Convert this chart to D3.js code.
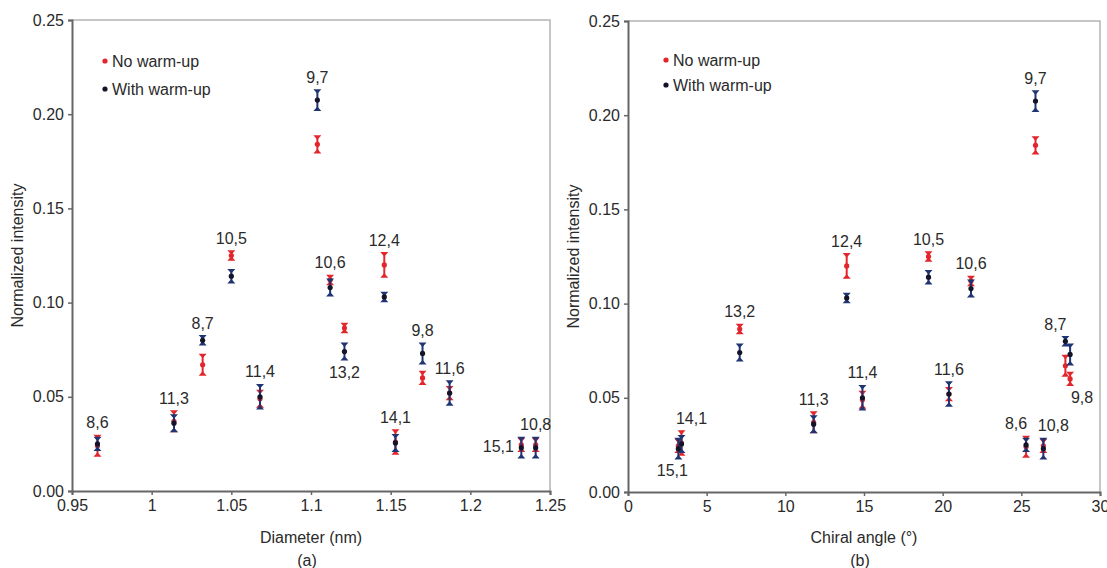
<!DOCTYPE html>
<html lang="en">
<head>
    <meta charset="utf-8">
    <script src="https://d3js.org/d3.v7.min.js"></script>
    <style type="text/css">
        body {
            margin: 0;
            background: #fff;
            overflow: hidden;
        }
        text {
            font-family: "Liberation Sans", Arial, sans-serif;
            fill: #2a2a2a;
        }
    </style>
</head>
<body>
<svg id="chart"></svg>
<script type="text/javascript">
    // tube chiralities (n,m) and values
    var tubes = ["8,6", "11,3", "8,7", "10,5", "11,4", "9,7", "10,6", "12,4", "13,2", "14,1", "9,8", "11,6", "15,1", "10,8"];
    var diameter = [0.966, 1.014, 1.032, 1.050, 1.068, 1.104, 1.112, 1.146, 1.121, 1.153, 1.170, 1.187, 1.232, 1.241];
    var chiralAngle = [25.3, 11.8, 27.8, 19.1, 14.9, 25.9, 21.8, 13.9, 7.1, 3.4, 28.1, 20.4, 3.2, 26.4];
    var noWarmup = [0.024, 0.037, 0.067, 0.125, 0.049, 0.184, 0.112, 0.120, 0.0865, 0.026, 0.060, 0.052, 0.0245, 0.0245];
    var noWarmupErr = [0.005, 0.005, 0.005, 0.002, 0.004, 0.004, 0.002, 0.006, 0.002, 0.006, 0.003, 0.003, 0.003, 0.003];
    var withWarmup = [0.025, 0.036, 0.080, 0.114, 0.050, 0.2075, 0.108, 0.103, 0.074, 0.0255, 0.073, 0.052, 0.023, 0.023];
    var withWarmupErr = [0.003, 0.004, 0.002, 0.003, 0.006, 0.005, 0.004, 0.002, 0.004, 0.004, 0.005, 0.006, 0.005, 0.005];

    var yTicks = [0, 0.05, 0.10, 0.15, 0.20, 0.25];
    var diameterTicks = [0.95, 1, 1.05, 1.1, 1.15, 1.2, 1.25];
    var angleTicks = [0, 5, 10, 15, 20, 25, 30];

    // where each tube label sits relative to its marker
    var labelSideA = {"13,2": "below", "15,1": "left"};
    var labelSideB = {"15,1": "belowLeft", "14,1": "aboveRight", "9,8": "belowRight",
        "8,7": "aboveLeft", "8,6": "aboveLeft", "10,8": "aboveRight"};

    var width = 1107, height = 568;
    var red = "#e3262c", navy = "#1f3573", dark = "#141428";
    var font = "Liberation Sans, Arial, sans-serif";

    var svg = d3.select("#chart")
        .attr("width", width)
        .attr("height", height);

    var rows = tubes.map(function(t, i) {
        return {
            tube: t, d: diameter[i], a: chiralAngle[i],
            red: noWarmup[i], redErr: noWarmupErr[i],
            blue: withWarmup[i], blueErr: withWarmupErr[i]
        };
    });

    function drawPanel(opt) {
        var x = d3.scaleLinear().domain(opt.xDomain).range([opt.left, opt.right]);
        var y = d3.scaleLinear().domain([0, 0.25]).range([opt.bottom, opt.top]);
        var g = svg.append("g");

        // light frame on top and right
        g.append("path")
            .attr("d", "M" + opt.left + "," + opt.top + "H" + opt.right + "V" + opt.bottom)
            .attr("fill", "none")
            .attr("stroke", "#b4b4b4")
            .attr("stroke-width", 1.5);

        var yAxis = g.append("g")
            .attr("transform", "translate(" + opt.left + ",0)")
            .call(d3.axisLeft(y).tickValues(yTicks).tickFormat(d3.format(".2f")).tickSize(4).tickPadding(4));
        var xAxis = g.append("g")
            .attr("transform", "translate(0," + opt.bottom + ")")
            .call(d3.axisBottom(x).tickValues(opt.ticks).tickFormat(function(d) { return String(+d.toFixed(2)); }).tickSize(4).tickPadding(5));

        [yAxis, xAxis].forEach(function(ax) {
            ax.select(".domain").attr("stroke", "#666").attr("stroke-width", 2);
            ax.selectAll(".tick line").attr("stroke", "#666").attr("stroke-width", 1.5);
            ax.selectAll(".tick text").style("font-size", "16px").style("font-family", font).attr("fill", "#2a2a2a");
        });

        g.append("text")
            .attr("x", (opt.left + opt.right) / 2)
            .attr("y", 543)
            .attr("text-anchor", "middle")
            .style("font-size", "16px")
            .text(opt.title);
        g.append("text")
            .attr("x", (opt.left + opt.right) / 2 - 4)
            .attr("y", 566)
            .attr("text-anchor", "middle")
            .style("font-size", "16px")
            .text(opt.tag);
        g.append("text")
            .attr("transform", "translate(" + (opt.left - 49) + "," + ((opt.top + opt.bottom) / 2) + ") rotate(-90)")
            .attr("text-anchor", "middle")
            .style("font-size", "16px")
            .text("Normalized intensity");

        // error bars
        function series(key, errKey, barColor, dotColor) {
            var s = g.append("g").selectAll("g")
                .data(rows)
                .join("g")
                .attr("transform", function(d) { return "translate(" + x(d[opt.xKey]) + ",0)"; });
            s.append("line")
                .attr("y1", function(d) { return y(d[key] + d[errKey]); })
                .attr("y2", function(d) { return y(d[key] - d[errKey]); })
                .attr("stroke", barColor)
                .attr("stroke-width", 2);
            s.append("path")
                .attr("d", function(d) {
                    var t = y(d[key] + d[errKey]), b = y(d[key] - d[errKey]);
                    return "M-4," + (t - 1.5) + "H4L0," + (t + 3) + "Z" +
                        "M-4," + (b + 1.5) + "H4L0," + (b - 3) + "Z";
                })
                .attr("fill", barColor);
            s.append("circle")
                .attr("cy", function(d) { return y(d[key]); })
                .attr("r", 2.6)
                .attr("fill", dotColor);
        }
        series("red", "redErr", red, red);
        series("blue", "blueErr", navy, dark);

        // tube labels
        g.append("g").selectAll("text")
            .data(rows)
            .join("text")
            .attr("text-anchor", "middle")
            .style("font-size", "16px")
            .each(function(d) {
                var side = opt.sides[d.tube] || "above";
                var cx = x(d[opt.xKey]);
                var top = y(Math.max(d.red + d.redErr, d.blue + d.blueErr));
                var bot = y(Math.min(d.red - d.redErr, d.blue - d.blueErr));
                var mid = y((d.red + d.blue) / 2);
                var tx = cx, ty = top - 8;
                if (side === "below") { ty = bot + 19; }
                if (side === "left") { tx = cx - 23; ty = mid + 6; }
                if (side === "aboveLeft") { tx = cx - 10; }
                if (side === "aboveRight") { tx = cx + 10; }
                if (side === "belowRight") { tx = cx + 12; ty = bot + 18; }
                if (side === "belowLeft") { tx = cx - 6; ty = bot + 18; }
                d3.select(this).attr("x", tx).attr("y", ty);
            })
            .text(function(d) { return d.tube; });

        // legend
        var leg = g.append("g").attr("transform", "translate(" + opt.legX + ",0)");
        leg.append("circle").attr("cx", 0).attr("cy", opt.legY).attr("r", 2.6).attr("fill", red);
        leg.append("circle").attr("cx", 0).attr("cy", opt.legY + opt.legGap).attr("r", 2.6).attr("fill", dark);
        leg.append("text").attr("x", 7).attr("y", opt.legY + 6).style("font-size", "16px").text("No warm-up");
        leg.append("text").attr("x", 7).attr("y", opt.legY + opt.legGap + 6).style("font-size", "16px").text("With warm-up");
    }

    drawPanel({
        left: 72, right: 550, top: 20, bottom: 491,
        xDomain: [0.95, 1.25], ticks: diameterTicks, xKey: "d",
        title: "Diameter (nm)", tag: "(a)", sides: labelSideA,
        legX: 105, legY: 61, legGap: 28
    });
    drawPanel({
        left: 628, right: 1100, top: 21, bottom: 492,
        xDomain: [0, 30], ticks: angleTicks, xKey: "a",
        title: "Chiral angle (°)", tag: "(b)", sides: labelSideB,
        legX: 666, legY: 60, legGap: 25
    });
</script>
</body>
</html>
